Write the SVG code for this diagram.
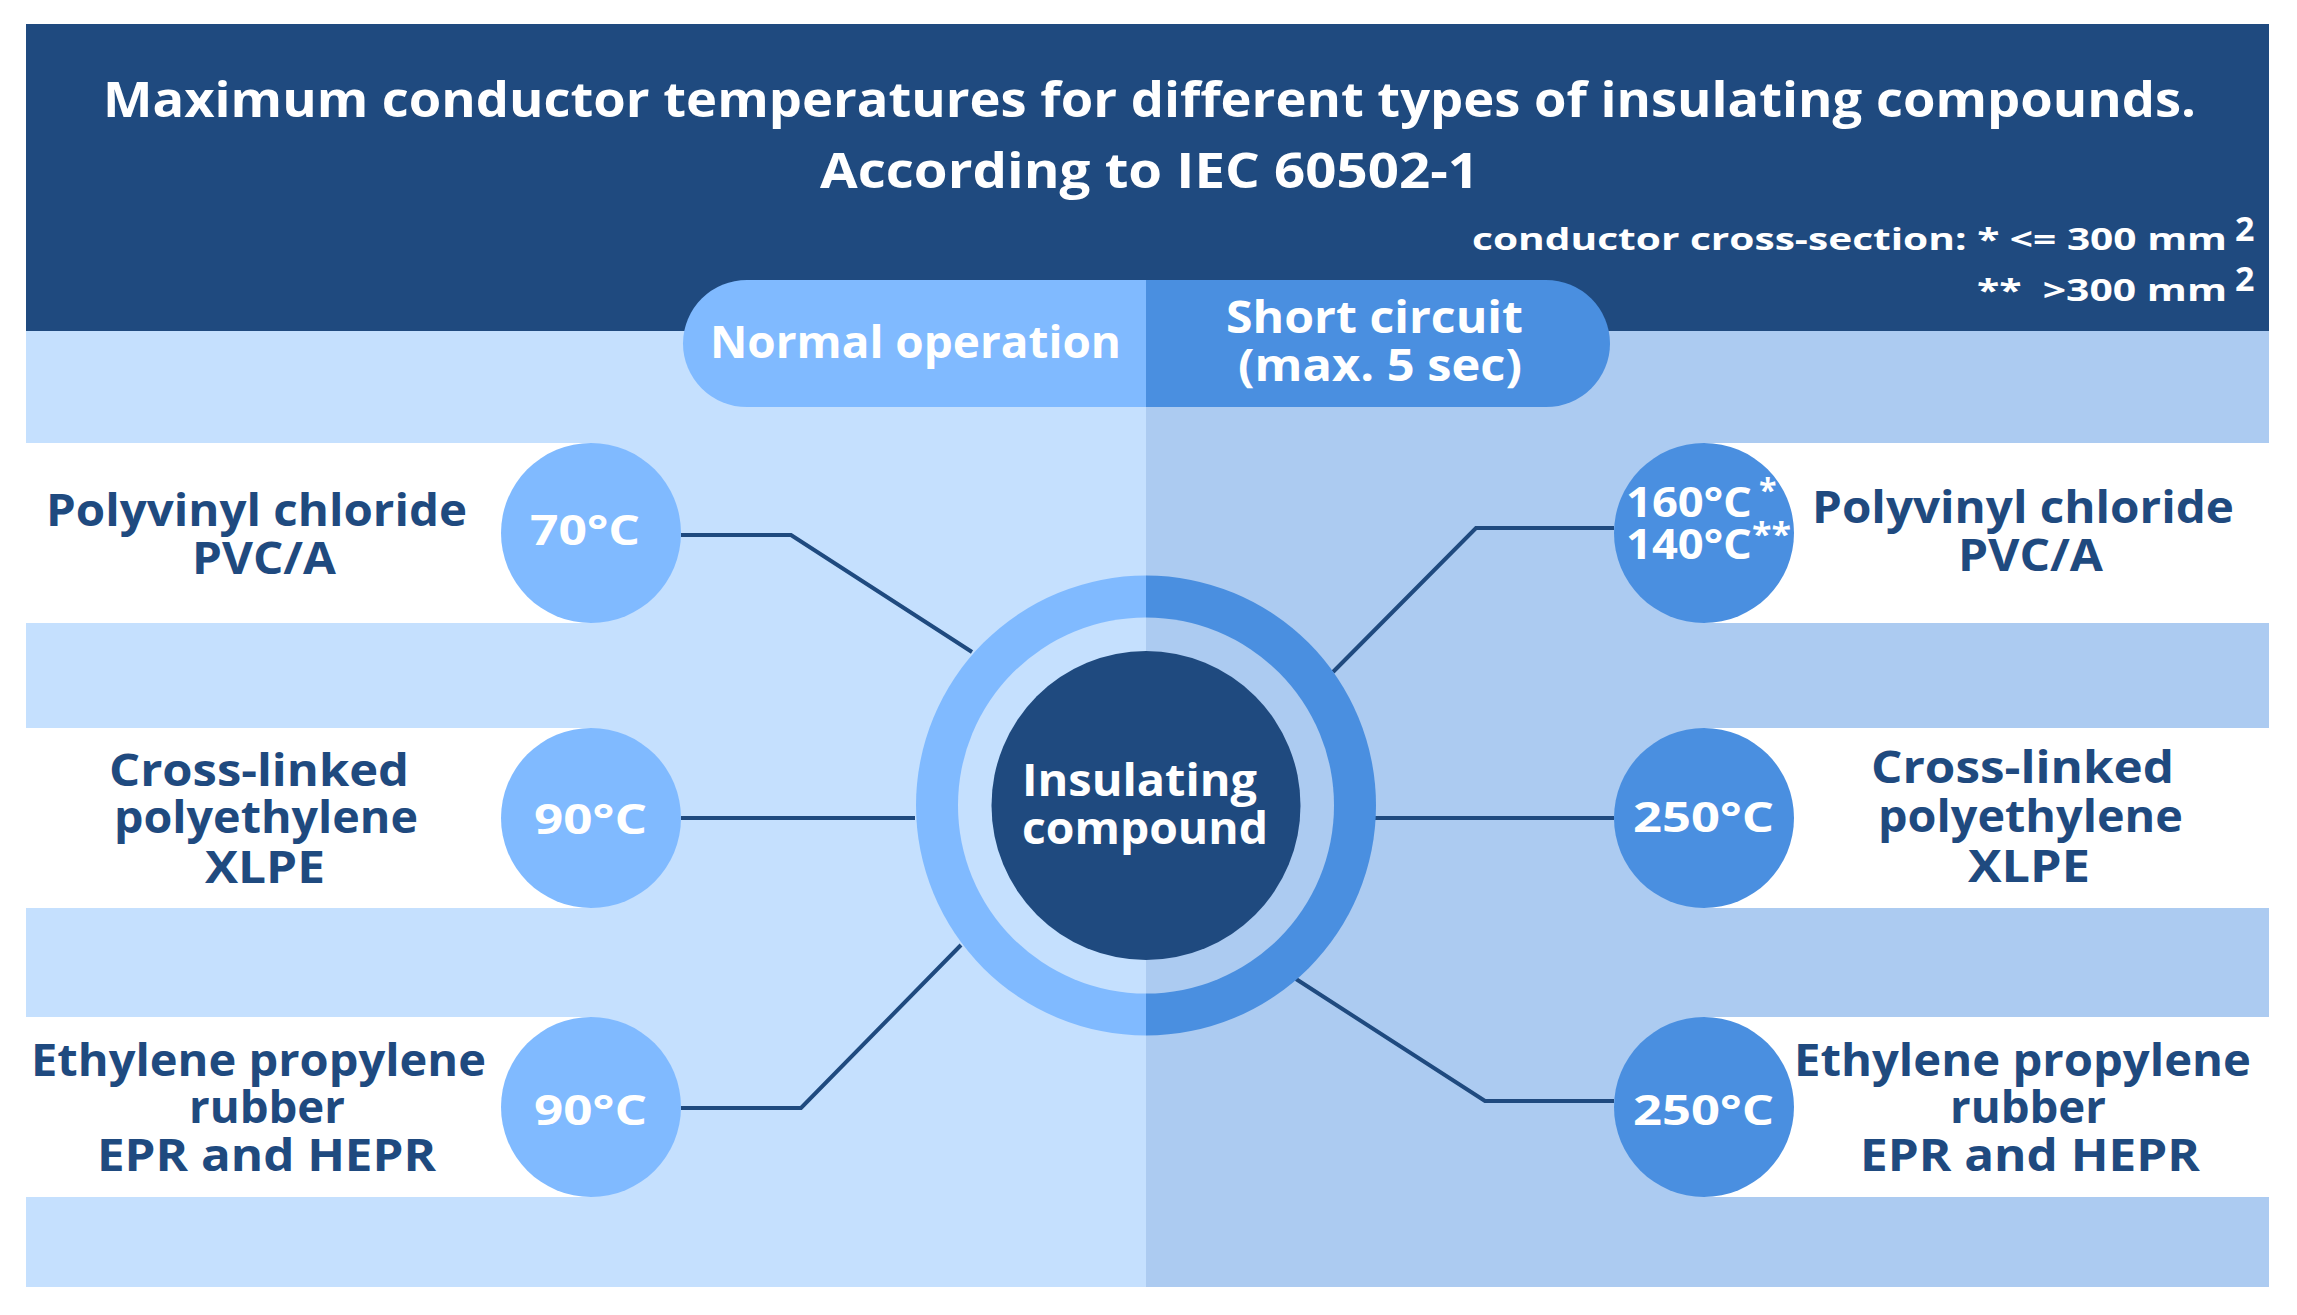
<svg xmlns="http://www.w3.org/2000/svg" width="2297" height="1315" viewBox="0 0 2297 1315">
<style>
text{font-family:"Open Sans","Liberation Sans",sans-serif;font-weight:700}
.title{fill:#fff;font-size:48px}
.note{fill:#fff;font-size:31px}
.pill{fill:#fff;font-size:45px}
.lbl{fill:#1f4a7f;font-size:44px}
.tmp{fill:#fff;font-size:42px}
.sup{fill:#fff;font-size:32px}
.ctr{fill:#fff;font-size:45px}
.conn{fill:none;stroke:#1f4a7f;stroke-width:4;stroke-linejoin:miter}
.cl{fill:#80baff}
.cr{fill:#4a8fe0}
.band{fill:#fff}
</style>
<rect width="2297" height="1315" fill="#fff"/>
<g id="background">
<rect x="26" y="331" width="1120" height="956" fill="#c5e0fe"/>
<rect x="1146" y="331" width="1123" height="956" fill="#accbf1"/>
<rect x="26" y="24" width="2243" height="307" fill="#1f4a7f"/>
<rect x="26" y="443" width="565" height="180" class="band"/>
<rect x="26" y="728" width="565" height="180" class="band"/>
<rect x="26" y="1017" width="565" height="180" class="band"/>
<rect x="1704" y="443" width="565" height="180" class="band"/>
<rect x="1704" y="728" width="565" height="180" class="band"/>
<rect x="1704" y="1017" width="565" height="180" class="band"/>
</g>
<g id="title">
<text class="title" x="103" y="117" textLength="2093" lengthAdjust="spacingAndGlyphs">Maximum conductor temperatures for different types of insulating compounds.</text>
<text class="title" x="820" y="188" textLength="659" lengthAdjust="spacingAndGlyphs">According to IEC 60502-1</text>
<text class="note" x="1472" y="250" textLength="755" lengthAdjust="spacingAndGlyphs">conductor cross-section: * &lt;= 300 mm</text>
<text class="note" x="2235" y="241" font-size="34" style="font-size:34px">2</text>
<text class="note" x="1977" y="301" textLength="250" lengthAdjust="spacingAndGlyphs" xml:space="preserve">**  &gt;300 mm</text>
<text class="note" x="2235" y="291" style="font-size:34px">2</text>
</g>
<g id="header-pill">
<path d="M747 280 H1146 V407 H747 A64 63.5 0 0 1 747 280 Z" class="cl"/>
<path d="M1146 280 H1546 A64 63.5 0 0 1 1546 407 H1146 Z" class="cr"/>
<text class="pill" x="710" y="358" textLength="411" lengthAdjust="spacingAndGlyphs">Normal operation</text>
<text class="pill" x="1226" y="333" textLength="297" lengthAdjust="spacingAndGlyphs">Short circuit</text>
<text class="pill" x="1238" y="381" textLength="284" lengthAdjust="spacingAndGlyphs">(max. 5 sec)</text>
</g>
<g id="connectors">
<polyline class="conn" points="681,535 791,535 972,652"/>
<polyline class="conn" points="681,818 915,818"/>
<polyline class="conn" points="681,1108 801,1108 961,945"/>
<polyline class="conn" points="1614,528 1476,528 1333,672"/>
<polyline class="conn" points="1614,818 1375,818"/>
<polyline class="conn" points="1614,1101 1485,1101 1296,979"/>
</g>
<g id="center">
<path d="M1146 575.5 A230 230 0 0 0 1146 1035.5 Z" class="cl"/>
<path d="M1146 575.5 A230 230 0 0 1 1146 1035.5 Z" class="cr"/>
<path d="M1146 617.5 A188 188 0 0 0 1146 993.5 Z" fill="#c5e0fe"/>
<path d="M1146 617.5 A188 188 0 0 1 1146 993.5 Z" fill="#accbf1"/>
<circle cx="1146" cy="805.5" r="154.5" fill="#1f4a7f"/>
<text class="ctr" x="1022" y="796" textLength="235" lengthAdjust="spacingAndGlyphs">Insulating</text>
<text class="ctr" x="1022" y="844" textLength="246" lengthAdjust="spacingAndGlyphs">compound</text>
</g>
<g id="pvc-normal">
<circle cx="591" cy="533" r="90" class="cl"/>
<text class="tmp" x="530" y="545" textLength="110" lengthAdjust="spacingAndGlyphs">70°C</text>
<text class="lbl" x="46" y="526" textLength="421" lengthAdjust="spacingAndGlyphs">Polyvinyl chloride</text>
<text class="lbl" x="192" y="574" textLength="144" lengthAdjust="spacingAndGlyphs">PVC/A</text>
</g>
<g id="xlpe-normal">
<circle cx="591" cy="818" r="90" class="cl"/>
<text class="tmp" x="534" y="834" textLength="113" lengthAdjust="spacingAndGlyphs">90°C</text>
<text class="lbl" x="109" y="786" textLength="300" lengthAdjust="spacingAndGlyphs">Cross-linked</text>
<text class="lbl" x="114" y="833" textLength="304" lengthAdjust="spacingAndGlyphs">polyethylene</text>
<text class="lbl" x="205" y="883" textLength="120" lengthAdjust="spacingAndGlyphs">XLPE</text>
</g>
<g id="epr-normal">
<circle cx="591" cy="1107" r="90" class="cl"/>
<text class="tmp" x="534" y="1125" textLength="113" lengthAdjust="spacingAndGlyphs">90°C</text>
<text class="lbl" x="31" y="1076" textLength="455" lengthAdjust="spacingAndGlyphs">Ethylene propylene</text>
<text class="lbl" x="189" y="1123" textLength="156" lengthAdjust="spacingAndGlyphs">rubber</text>
<text class="lbl" x="97" y="1171" textLength="339" lengthAdjust="spacingAndGlyphs">EPR and HEPR</text>
</g>
<g id="pvc-short">
<circle cx="1704" cy="533" r="90" class="cr"/>
<text class="tmp" x="1626" y="517" textLength="126" lengthAdjust="spacingAndGlyphs">160°C</text>
<text class="sup" x="1759" y="502">*</text>
<text class="tmp" x="1626" y="559" textLength="126" lengthAdjust="spacingAndGlyphs">140°C</text>
<text class="sup" x="1752" y="546" textLength="39" lengthAdjust="spacingAndGlyphs">**</text>
<text class="lbl" x="1812" y="523" textLength="422" lengthAdjust="spacingAndGlyphs">Polyvinyl chloride</text>
<text class="lbl" x="1958" y="571" textLength="145" lengthAdjust="spacingAndGlyphs">PVC/A</text>
</g>
<g id="xlpe-short">
<circle cx="1704" cy="818" r="90" class="cr"/>
<text class="tmp" x="1633" y="832" textLength="141" lengthAdjust="spacingAndGlyphs">250°C</text>
<text class="lbl" x="1871" y="783" textLength="303" lengthAdjust="spacingAndGlyphs">Cross-linked</text>
<text class="lbl" x="1878" y="832" textLength="305" lengthAdjust="spacingAndGlyphs">polyethylene</text>
<text class="lbl" x="1968" y="882" textLength="122" lengthAdjust="spacingAndGlyphs">XLPE</text>
</g>
<g id="epr-short">
<circle cx="1704" cy="1107" r="90" class="cr"/>
<text class="tmp" x="1633" y="1125" textLength="141" lengthAdjust="spacingAndGlyphs">250°C</text>
<text class="lbl" x="1794" y="1076" textLength="457" lengthAdjust="spacingAndGlyphs">Ethylene propylene</text>
<text class="lbl" x="1950" y="1123" textLength="156" lengthAdjust="spacingAndGlyphs">rubber</text>
<text class="lbl" x="1860" y="1171" textLength="340" lengthAdjust="spacingAndGlyphs">EPR and HEPR</text>
</g>
</svg>
